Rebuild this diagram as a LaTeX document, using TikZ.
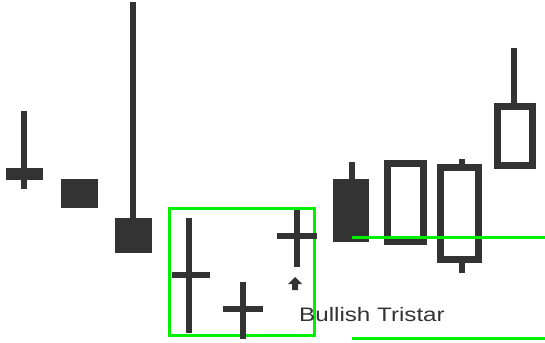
\documentclass[tikz,border=0pt]{standalone}
\usepackage{fontspec}
\setmainfont{Liberation Sans}
\usetikzlibrary{calc}
\definecolor{candle}{HTML}{333333}
\definecolor{boxgreen}{HTML}{00F000}

\begin{document}
\begin{tikzpicture}[x=1pt,y=-1pt,
    wick/.style={draw=candle,line width=6pt},
    hollow/.style={draw=candle,line width=7pt},
    greenline/.style={draw=boxgreen,line width=3pt}]
			\useasboundingbox (0,0) rectangle (545,342);
			% left candles
			\draw[wick](24,111)--(24,189);
			\fill[candle](6,168)rectangle(43,180);
			\fill[candle](61,179)rectangle(98,208);
			\draw[wick](133,2)--(133,218);
			\fill[candle](115,218)rectangle(152,253);
			% pattern box
			\draw[greenline](169.5,208.5)rectangle(314.5,335.5);
			\draw[wick](189,218)--(189,333);
			\draw[wick](172,275)--(210,275);
			\draw[wick](243,282)--(243,339);
			\draw[wick](223,309)--(263,309);
			\draw[wick](297,210)--(297,267);
			\draw[wick](277,236)--(317,236);
			\fill[candle](288,284)--(295,277)--(302,284)--(298,284)--(298,290)--(292,290)--(292,284)--cycle;
			\node[anchor=base west,inner sep=0pt,text=candle,font=\fontsize{19.5}{20}\selectfont](label)at(299,321){\scalebox{1.24}[1]{Bullish Tristar}};
			% right candles
			\draw[wick](352,162)--(352,179);
			\fill[candle](333,179)rectangle(369,242);
			\draw[hollow](387.5,163.5)rectangle(423.5,241.5);
			\draw[wick](462,159)--(462,164);
			\draw[wick](462,263)--(462,273);
			\draw[hollow](440.5,167.5)rectangle(478.5,259.5);
			\draw[wick](514,48)--(514,103);
			\draw[hollow](497.5,106.5)rectangle(532.5,165.5);
			% levels
			\draw[greenline](352,237)--(545,237);
			\draw[greenline](352,338)--(545,338);
		\end{tikzpicture}
\end{document}
